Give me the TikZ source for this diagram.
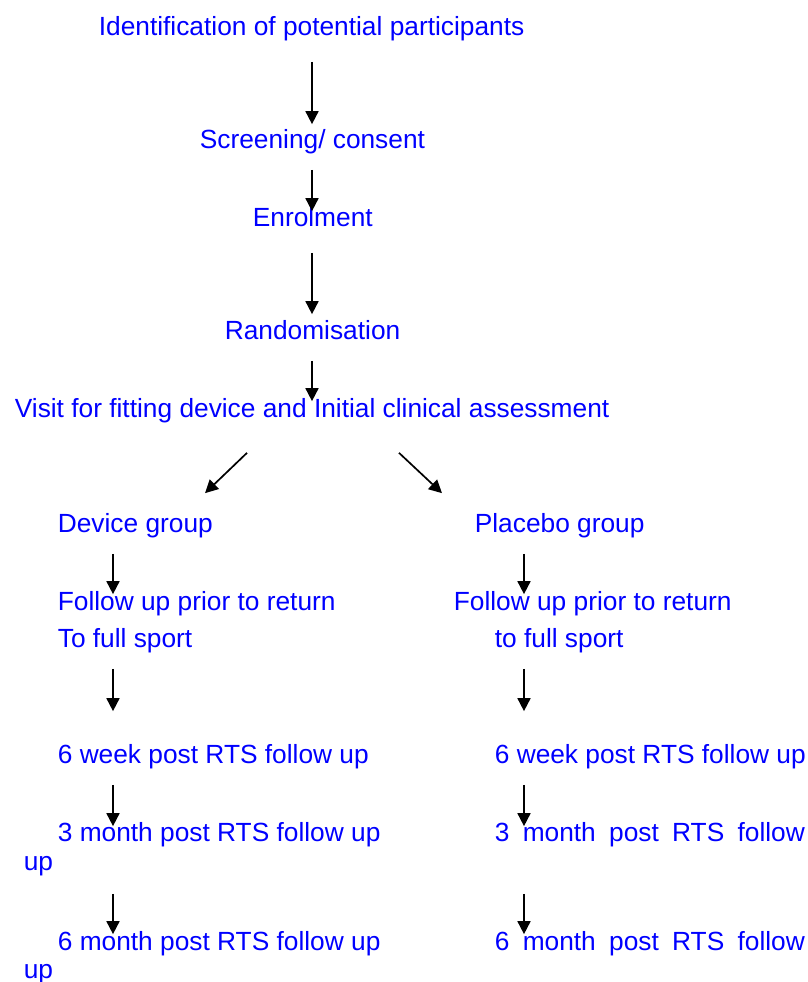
\documentclass[tikz,border=0pt]{standalone}
\usepackage{fontspec}
\setmainfont{Liberation Sans}
\usetikzlibrary{arrows.meta, calc}

\begin{document}
\begin{tikzpicture}[x=1pt, y=-1pt, >={Triangle[length=13pt, width=13pt]}, line width=1.7pt]
            \tikzset{
                stage/.style={anchor=base west, inner sep=0pt, text=blue, font=\fontsize{26.3}{31}\selectfont, text height=19pt, text depth=6pt}
            };
            \useasboundingbox (0, 0) rectangle (807, 982);
            \coordinate (colM) at (312, 0);
            \coordinate (colL) at (113, 0);
            \coordinate (colR) at (524, 0);
            \node[stage] (ident) at (98, 36) {Identification of potential participants};
            \node[stage] (screen) at (199, 148) {Screening/ consent};
            \node[stage] (enrol) at (252, 226) {Enrolment};
            \node[stage] (rand) at (224, 339) {Randomisation};
            \node[stage] (visit) at (14, 417) {Visit for fitting device and Initial clinical assessment};
            % device arm
            \node[stage] (devL) at (57, 532) {Device group};
            \node[stage] (fuL) at (57, 610) {Follow up prior to return};
            \node[stage] (fuL2) at (57, 647) {To full sport};
            \node[stage] (wk6L) at (57, 763) {6 week post RTS follow up};
            \node[stage] (m3L) at (57, 841) {3 month post RTS follow up};
            \node[stage] (upL) at (23, 870) {up};
            \node[stage] (m6L) at (57, 950) {6 month post RTS follow up};
            \node[stage] (upL2) at (23, 978) {up};
            % placebo arm
            \node[stage] (plaR) at (474, 532) {Placebo group};
            \node[stage] (fuR) at (453, 610) {Follow up prior to return};
            \node[stage] (fuR2) at (494, 647) {to full sport};
            \node[stage] (wk6R) at (494, 763) {6 week post RTS follow up};
            \node[stage] (m3R) at (494, 841) {\makebox[310pt][s]{3 month post RTS follow}};
            \node[stage] (m6R) at (494, 950) {\makebox[310pt][s]{6 month post RTS follow}};
            \draw[->] ($(ident.south -| colM)+(0, 19)$) -- ($(screen.north -| colM)+(0, -4)$);
            \draw[->] ($(screen.south -| colM)+(0, 15)$) -- ($(enrol.north -| colM)+(0, 5)$);
            \draw[->] ($(enrol.south -| colM)+(0, 20)$) -- ($(rand.north -| colM)+(0, -5)$);
            \draw[->] ($(rand.south -| colM)+(0, 15)$) -- ($(visit.north -| colM)+(0, 4)$);
            \draw[->] ($(visit.south -| colM)+(-65, 29)$) -- ($(devL.north -| colL)+(92, -19)$);
            \draw[->] ($(visit.south -| colM)+(87, 29)$) -- ($(plaR.north -| colR)+(-82, -19)$);
            \draw[->] ($(devL.south -| colL)+(0, 15)$) -- ($(fuL.north -| colL)+(0, 4)$);
            \draw[->] ($(fuL2.south -| colL)+(0, 15)$) -- ($(wk6L.north -| colL)+(0, -32)$);
            \draw[->] ($(wk6L.south -| colL)+(0, 15)$) -- ($(m3L.north -| colL)+(0, 5)$);
            \draw[->] ($(upL.south -| colL)+(0, 17)$) -- ($(m6L.north -| colL)+(0, 4)$);
            \draw[->] ($(plaR.south -| colR)+(0, 15)$) -- ($(fuR.north -| colR)+(0, 4)$);
            \draw[->] ($(fuR2.south -| colR)+(0, 15)$) -- ($(wk6R.north -| colR)+(0, -32)$);
            \draw[->] ($(wk6R.south -| colR)+(0, 15)$) -- ($(m3R.north -| colR)+(0, 5)$);
            \draw[->] ($(m3R.south -| colR)+(0, 46)$) -- ($(m6R.north -| colR)+(0, 4)$);
        \end{tikzpicture}
\end{document}
